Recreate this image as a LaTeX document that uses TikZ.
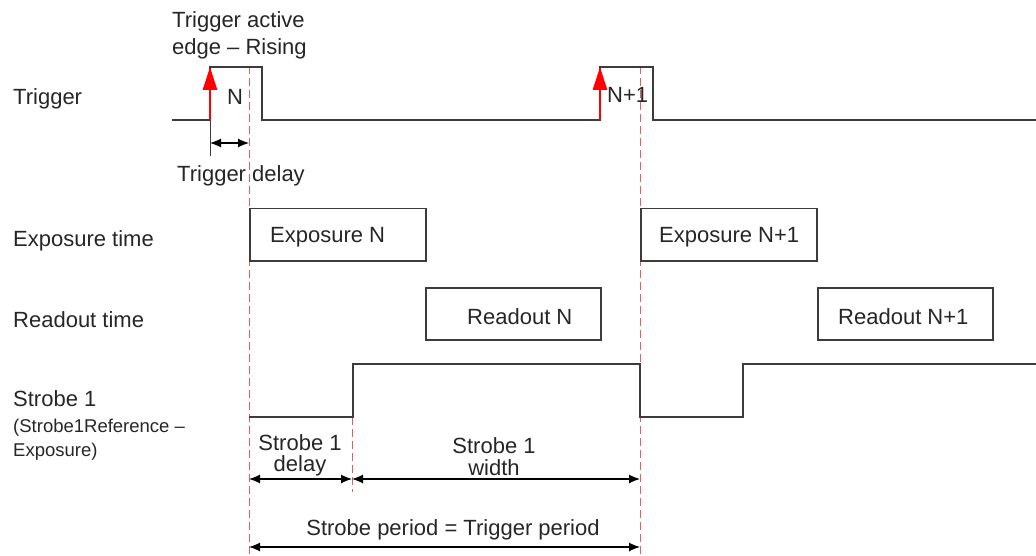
\documentclass[tikz,border=0pt]{standalone}
\usepackage{fontspec}
\setmainfont{Liberation Sans}
\usetikzlibrary{arrows.meta}
\definecolor{sigcol}{RGB}{60,60,60}
\definecolor{dashred}{RGB}{225,95,95}
\begin{document}
\begin{tikzpicture}[x=1pt,y=-1pt,
  sig/.style={draw=sigcol, line width=1.5pt},
  boxnode/.style={draw=sigcol, line width=1.5pt, inner sep=0pt, anchor=north west},
  lbl/.style={font=\fontsize{22}{24}\selectfont, inner sep=0pt, anchor=base west, text=black!85},
  clbl/.style={font=\fontsize{22}{24}\selectfont, inner sep=0pt, anchor=base, text=black!85},
  slbl/.style={font=\fontsize{18.5}{20}\selectfont, inner sep=0pt, anchor=base west, text=black!85},
  reddash/.style={draw=dashred, line width=1pt, dash pattern=on 8pt off 4pt},
  trigarrow/.style={draw=red, line width=2.8pt, -{Triangle[length=23pt,width=14pt,fill=red]}},
  dimarrow/.style={draw=black, line width=1.2pt, {Latex[length=11pt,width=9pt]}-{Latex[length=11pt,width=9pt]}},
  tick/.style={draw=sigcol, line width=1pt}]
\useasboundingbox (0,0) rectangle (1036,556);

% key coordinates
\coordinate (t0) at (172,120);
\coordinate (r1b) at (210,120);
\coordinate (r1t) at (210,67);
\coordinate (f1t) at (262,67);
\coordinate (f1b) at (262,120);
\coordinate (r2b) at (600,120);
\coordinate (r2t) at (600,67);
\coordinate (f2t) at (653,67);
\coordinate (f2b) at (653,120);
\coordinate (tend) at (1036,120);

% dashed reference lines
\coordinate (d1top) at (249,66);
\coordinate (d1bot) at (249,556);
\coordinate (d2top) at (640,66);
\coordinate (d2bot) at (640,556);
\coordinate (d3top) at (352,417);
\coordinate (d3bot) at (352,492);
\draw[reddash] (d1top) -- (d1bot);
\draw[reddash] (d2top) -- (d2bot);
\draw[reddash] (d3top) -- (d3bot);

% trigger signal
\draw[sig] (t0) -- (r1b) -- (r1t) -- (f1t) -- (f1b) -- (r2b) -- (r2t) -- (f2t) -- (f2b) -- (tend);
\draw[trigarrow] (r1b) -- (r1t);
\draw[trigarrow] (r2b) -- (r2t);

% trigger delay
\coordinate (tk1) at (210,120);
\coordinate (tk2) at (210,156);
\draw[tick] (tk1) -- (tk2);
\coordinate (tda) at (210,143);
\coordinate (tdb) at (249,143);
\draw[dimarrow] (tda) -- (tdb);

% boxes
\node[boxnode, minimum width=176pt, minimum height=52pt] (expN) at (249,208) {};
\node[boxnode, minimum width=176pt, minimum height=52pt] (expN1) at (640,208) {};
\node[boxnode, minimum width=175pt, minimum height=52pt] (rdN) at (425,287) {};
\node[boxnode, minimum width=175pt, minimum height=52pt] (rdN1) at (817,287) {};
\node[lbl] (expNt) at (270,243) {Exposure N};
\node[lbl] (expN1t) at (659,243) {Exposure N+1};
\node[lbl] (rdNt) at (467,324) {Readout N};
\node[lbl] (rdN1t) at (838,324) {Readout N+1};

% strobe signal
\coordinate (s0) at (249,417);
\coordinate (s1) at (353,417);
\coordinate (s2) at (353,364);
\coordinate (s3) at (640,364);
\coordinate (s4) at (640,417);
\coordinate (s5) at (743,417);
\coordinate (s6) at (743,364);
\coordinate (s7) at (1036,364);
\draw[sig] (s0) -- (s1) -- (s2) -- (s3) -- (s4) -- (s5) -- (s6) -- (s7);

% dimension arrows
\coordinate (da) at (249,479);
\coordinate (db) at (352,479);
\coordinate (dc) at (640,479);
\draw[dimarrow] (da) -- (db);
\draw[dimarrow] (db) -- (dc);
\coordinate (pa) at (249,547);
\coordinate (pb) at (640,547);
\draw[dimarrow] (pa) -- (pb);

% labels
\node[lbl] (tat1) at (172,28) {Trigger active};
\node[lbl] (tat2) at (172,55) {edge -- Rising};
\node[lbl] (nN) at (227,105) {N};
\node[lbl] (nN1) at (607,103) {N+1};
\node[lbl] (tdl) at (177,182) {Trigger delay};

\node[lbl] (lTrig) at (13,105) {Trigger};
\node[lbl] (lExp) at (13,247) {Exposure time};
\node[lbl] (lRd) at (13,327) {Readout time};
\node[lbl] (lStr) at (13,406) {Strobe 1};
\node[slbl] (lStr2) at (13,432) {(Strobe1Reference --};
\node[slbl] (lStr3) at (13,456) {Exposure)};

\node[clbl] (sd1) at (300,450) {Strobe 1};
\node[clbl] (sd2) at (300,471) {delay};
\node[clbl] (sw1) at (494,453) {Strobe 1};
\node[clbl] (sw2) at (494,475) {width};
\node[clbl] (sp) at (453,535) {Strobe period = Trigger period};
\end{tikzpicture}
\end{document}
